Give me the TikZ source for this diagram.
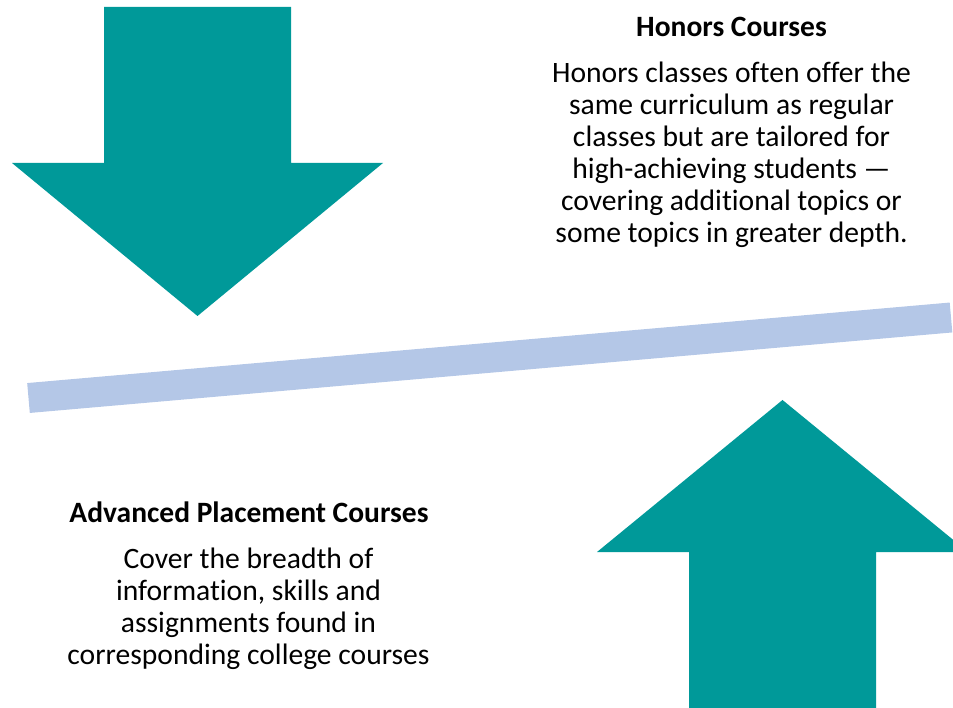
\documentclass[tikz,border=0pt]{standalone}
\usepackage{fontspec}
\setmainfont[Ligatures={NoCommon}]{Carlito}
\definecolor{teal}{RGB}{0,153,153}
\definecolor{band}{RGB}{180,199,231}
\tikzset{
  arrowshape/.style={fill=teal, draw=none},
  bandline/.style={draw=band, line width=30pt, line cap=butt},
  titletext/.style={inner sep=0pt, anchor=north, align=center, font=\fontsize{29.5}{32}\selectfont\bfseries},
  bodytext/.style={inner sep=0pt, anchor=north, align=center, font=\fontsize{29.6}{32}\selectfont}
}
\begin{document}
\begin{tikzpicture}[x=1pt,y=-1pt]
\useasboundingbox (0,0) rectangle (953,708);
\clip (0,0) rectangle (953,708);
% down arrow
\fill[arrowshape] (104,7) -- (291,7) -- (291,163) -- (383,163) -- (197.5,316) -- (12,163) -- (104,163) -- cycle;
% up arrow
\fill[arrowshape] (782.5,400) -- (968,552) -- (876,552) -- (876,720) -- (689,720) -- (689,552) -- (597,552) -- cycle;
% band
\coordinate (bl) at (28.5,398);
\coordinate (br) at (951,317.5);
\draw[bandline] (bl) -- (br);
% texts
\node[titletext] (ht) at (731.5,12) {\rule{0pt}{24pt}Honors Courses};
\node[bodytext] (hb) at (731.5,58) {\rule{0pt}{24pt}Honors classes often offer the\\same curriculum as regular\\classes but are tailored for\\high-achieving students —\\covering additional topics or\\some topics in greater depth.};
\node[titletext] (at) at (249,498) {\rule{0pt}{24pt}Advanced Placement Courses};
\node[bodytext] (ab) at (248.5,544) {\rule{0pt}{24pt}Cover the breadth of\\information, skills and\\assignments found in\\corresponding college courses};
\end{tikzpicture}
\end{document}
